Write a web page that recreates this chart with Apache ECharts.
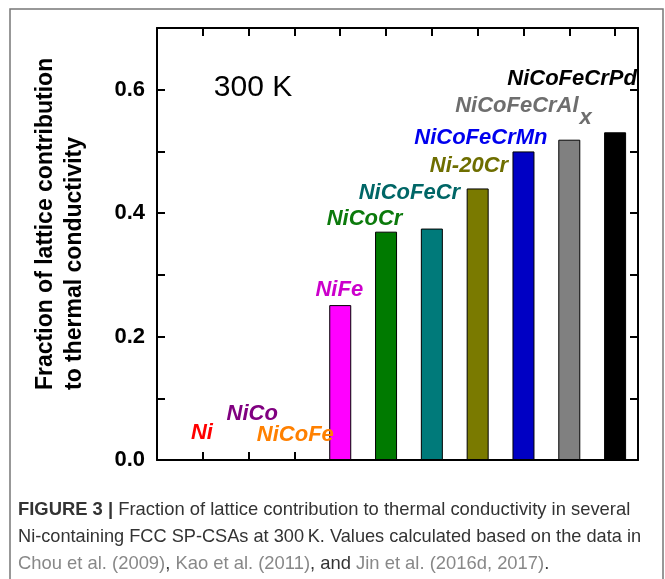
<!DOCTYPE html>
<html><head><meta charset="utf-8">
<script src="https://cdn.jsdelivr.net/npm/echarts@6/dist/echarts.min.js"></script>
<style>html,body{margin:0;padding:0;background:#fff}#c{width:665px;height:579px}</style>
</head><body><div id="c"></div>
<script>
// ---- data ----
const categories = ['Ni','NiCo','NiCoFe','NiFe','NiCoCr','NiCoFeCr','Ni-20Cr','NiCoFeCrMn','NiCoFeCrAlx','NiCoFeCrPd'];
const positions  = [1,2,3,4,5,6,7,8,9,10];
const values     = [null,null,null,0.251,0.370,0.375,0.440,0.500,0.519,0.531];
const yTicks     = [0.0,0.2,0.4,0.6];
// label anchor (data units)
const labelX = [0.98,2.08,3.02,3.98,4.53,5.51,6.81,7.07,8.0,9.06];
const labelY = [0.044,0.074,0.040,0.275,0.390,0.432,0.477,0.522,0.570,0.618];

const barColors   = ['#ff0000','#800080','#ff8000','#ff00ff','#007a00','#007a7a','#7a7a00','#0000c4','#808080','#000000'];
const labelColors = ['#ff0000','#800080','#ff8000','#cc00cc','#0c7a0c','#006666','#6e6e00','#0000ee','#6e6e6e','#000000'];

const chart = echarts.init(document.getElementById('c'), null, {renderer:'canvas'});
const FONT = 'Liberation Sans';
const mkLine = () => ({show:true, onZero:false, lineStyle:{color:'#000', width:2}});
const mkTick = () => ({show:true, inside:true, length:8, lineStyle:{color:'#000', width:2}});

const barData = positions.map((p,i)=>({value:[p, values[i]], itemStyle:{color:barColors[i]}}));
const labelData = categories.map((c,i)=>({
  value:[labelX[i], labelY[i]], name:c,
  label:{color:labelColors[i]}
}));

chart.setOption({
  animation:false,
  backgroundColor:'#fff',
  grid:{left:157, right:27, top:28, bottom:119},
  xAxis:[
    {type:'value', min:0, max:10.5, interval:1, position:'bottom',
     axisLine:mkLine(), axisTick:mkTick(), axisLabel:{show:false}, splitLine:{show:false}},
    {type:'value', min:0, max:10.5, interval:1, position:'top',
     axisLine:mkLine(), axisTick:mkTick(), axisLabel:{show:false}, splitLine:{show:false}}
  ],
  yAxis:[
    {type:'value', min:0, max:0.7, interval:0.1, position:'left',
     axisLine:mkLine(), axisTick:mkTick(),
     axisLabel:{fontFamily:FONT, fontWeight:'bold', fontSize:22, color:'#000', margin:12,
       formatter:v=>{const r=Math.round(v*10)/10; return yTicks.some(t=>Math.abs(t-r)<1e-6)? r.toFixed(1):'';}},
     splitLine:{show:false}},
    {type:'value', min:0, max:0.7, interval:0.1, position:'right',
     axisLine:mkLine(), axisTick:mkTick(), axisLabel:{show:false}, splitLine:{show:false}}
  ],
  series:[
    {type:'bar', xAxisIndex:0, yAxisIndex:0, barWidth:22, data:barData,
     itemStyle:{borderColor:'#000', borderWidth:1}, z:3},
    {type:'scatter', xAxisIndex:0, yAxisIndex:0, symbolSize:0, data:labelData, z:5,
     itemStyle:{opacity:1},
     label:{show:true, position:'inside', opacity:1, fontFamily:FONT, fontWeight:'bold', fontStyle:'italic', fontSize:22,
       formatter:p=> p.name==='NiCoFeCrAlx' ? '{a|NiCoFeCrAl}{s|x}' : p.name,
       rich:{
         a:{fontFamily:FONT, fontWeight:'bold', fontStyle:'italic', fontSize:22, color:'#6e6e6e', verticalAlign:'top', lineHeight:26},
         s:{fontFamily:FONT, fontWeight:'bold', fontStyle:'italic', fontSize:22, color:'#6e6e6e', verticalAlign:'top', lineHeight:26, padding:[12,0,0,1]}
       }},
     emphasis:{disabled:true}}
  ],
  graphic:[
    {type:'rect', shape:{x:10, y:9, width:653, height:600}, style:{fill:'none', stroke:'#777', lineWidth:1.5}, z:-1},
    {type:'text', x:253, y:88, style:{text:'300 K', font:'30px "Liberation Sans"', fill:'#000', textAlign:'center', textVerticalAlign:'middle'}},
    {type:'text', x:60, y:390, rotation:Math.PI/2,
     style:{text:'Fraction of lattice contribution\nto thermal conductivity', font:'bold 23px "Liberation Sans"', fill:'#000',
       textAlign:'left', textVerticalAlign:'middle', lineHeight:29}},
    {type:'text', x:18, y:510, style:{
      text:'{b|FIGURE 3 |} Fraction of lattice contribution to thermal conductivity in several',
      font:'18.4px "Liberation Sans"', fill:'#333', textVerticalAlign:'middle',
      rich:{b:{font:'bold 18.4px "Liberation Sans"', fill:'#333'}}}},
    {type:'text', x:18, y:537, style:{
      text:'Ni-containing FCC SP-CSAs at 300\u2009K. Values calculated based on the data in',
      font:'18.2px "Liberation Sans"', fill:'#333', textVerticalAlign:'middle'}},
    {type:'text', x:18, y:564, style:{
      text:'{g|Chou et al. (2009)}, {g|Kao et al. (2011)}, and {g|Jin et al. (2016d, 2017)}.',
      font:'18.4px "Liberation Sans"', fill:'#333', textVerticalAlign:'middle',
      rich:{g:{font:'18.4px "Liberation Sans"', fill:'#888'}}}}
  ]
});
</script></body></html>
